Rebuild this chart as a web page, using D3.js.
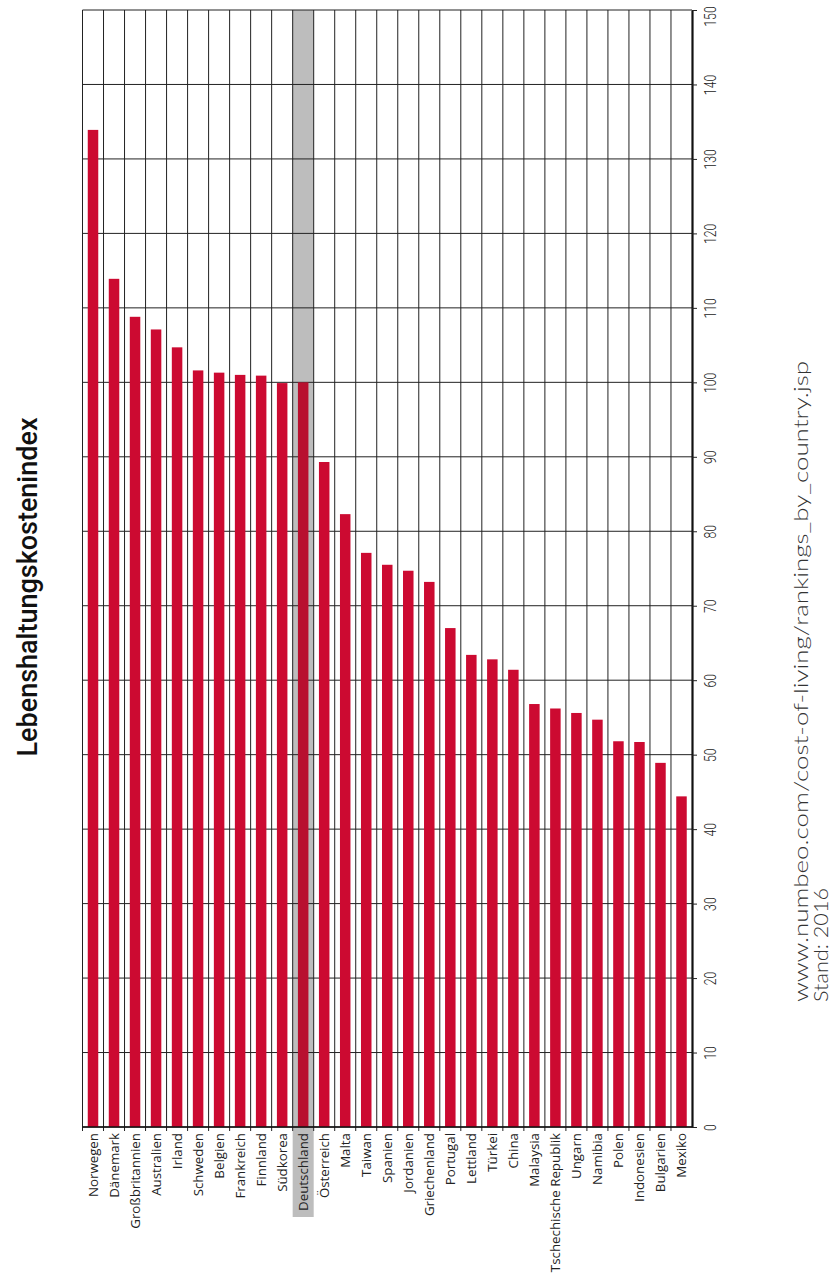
<!DOCTYPE html>
<html><head><meta charset="utf-8">
<script src="https://cdn.jsdelivr.net/npm/d3@7"></script>
<style>body{margin:0;background:#fff} svg{display:block}</style>
</head><body><svg id="c" width="835" height="1273"></svg>
<script>
const countries = ["Norwegen","Dänemark","Großbritannien","Australien","Irland","Schweden","Belgien","Frankreich","Finnland","Südkorea","Deutschland","Österreich","Malta","Taiwan","Spanien","Jordanien","Griechenland","Portugal","Lettland","Türkei","China","Malaysia","Tschechische Republik","Ungarn","Namibia","Polen","Indonesien","Bulgarien","Mexiko"];
const values = [133.9,113.9,108.8,107.1,104.7,101.6,101.3,101.0,100.9,99.9,100.0,89.3,82.3,77.1,75.5,74.7,73.2,67.0,63.4,62.8,61.4,56.8,56.2,55.6,54.7,51.8,51.7,48.9,44.4];
const highlight = "Deutschland";
const tickValues = [0,10,20,30,40,50,60,70,80,90,100,110,120,130,140,150];
const title = "Lebenshaltungskostenindex";
const sourceLines = ["www.numbeo.com/cost-of-living/rankings_by_country.jsp","Stand: 2016"];

const svg = d3.select("#c");
const x = d3.scaleBand().domain(countries).range([82.5, 692]).paddingInner(0.5).paddingOuter(0.25);
const y = d3.scaleLinear().domain([0,150]).range([1127, 10]);
const step = x.step();
const x0 = x.range()[0];

// highlight column
svg.append("rect")
  .attr("x", x0 + countries.indexOf(highlight)*step)
  .attr("y", y(150))
  .attr("width", step)
  .attr("height", 1217 - y(150))
  .attr("fill", "#bdbdbd");

// horizontal grid
svg.append("g").selectAll("line").data(tickValues).join("line")
  .attr("x1", x0).attr("x2", 692)
  .attr("y1", d => y(d)).attr("y2", d => y(d))
  .attr("stroke", "#222").attr("stroke-width", 1);

// vertical separators
svg.append("g").selectAll("line").data(d3.range(countries.length)).join("line")
  .attr("x1", i => x0 + i*step).attr("x2", i => x0 + i*step)
  .attr("y1", y(150)).attr("y2", y(0) + 4)
  .attr("stroke", "#222").attr("stroke-width", 1);

// bars
svg.append("g").selectAll("rect").data(countries).join("rect")
  .attr("x", d => x(d))
  .attr("width", x.bandwidth())
  .attr("y", (d,i) => y(values[i]))
  .attr("height", (d,i) => y(0) - y(values[i]))
  .attr("fill", d => d === highlight ? "#b8102f" : "#cc0a31");

// baseline
svg.append("line").attr("x1", x0).attr("x2", 692).attr("y1", y(0)).attr("y2", y(0))
  .attr("stroke", "#111").attr("stroke-width", 1.3);

// value axis on right
const ax = svg.append("g").attr("transform", "translate(692,0)")
  .call(d3.axisRight(y).tickValues(tickValues).tickSize(5).tickSizeOuter(0));
ax.select(".domain").attr("stroke", "#111").attr("stroke-width", 2.2);
ax.selectAll(".tick line").attr("stroke", "#222");
ax.selectAll(".tick text")
  .attr("x", null).attr("dy", null)
  .attr("transform", d => `translate(24,${Math.max(0, y(d) < 16 ? 16 - y(d) : 0)}) rotate(-90)`)
  .attr("text-anchor", "middle")
  .attr("fill", "#222")
  .style("font-family", "Roboto, sans-serif")
  .style("font-weight", "300")
  .style("font-size", "16px")
  .attr("textLength", d => String(d).length*6.8)
  .attr("lengthAdjust", "spacingAndGlyphs");

// category labels
svg.append("g").selectAll("text").data(countries).join("text")
  .attr("transform", d => `translate(${x(d) + x.bandwidth()/2 + 5},1133) rotate(-90)`)
  .attr("text-anchor", "end")
  .attr("fill", "#222")
  .style("font-family", "'Open Sans', sans-serif")
  .style("font-size", "13.3px")
  .text(d => d);

// title
svg.append("text")
  .attr("transform", "translate(37,587) rotate(-90)")
  .attr("text-anchor", "middle")
  .attr("fill", "#111")
  .style("font-family", "Roboto, sans-serif")
  .style("font-weight", "500")
  .style("font-size", "27px")
  .attr("textLength", 339).attr("lengthAdjust", "spacingAndGlyphs")
  .text(title);

// source
svg.append("g").selectAll("text").data(sourceLines).join("text")
  .attr("transform", (d,i) => `translate(${808 + i*20},1002) rotate(-90)`)
  .attr("text-anchor", "start")
  .attr("fill", "#333")
  .style("font-family", "Lato, sans-serif")
  .style("font-weight", "300")
  .style("font-size", "19px")
  .attr("textLength", (d,i) => i === 0 ? 641 : 114)
  .attr("lengthAdjust", "spacingAndGlyphs")
  .text(d => d);
</script></body></html>
